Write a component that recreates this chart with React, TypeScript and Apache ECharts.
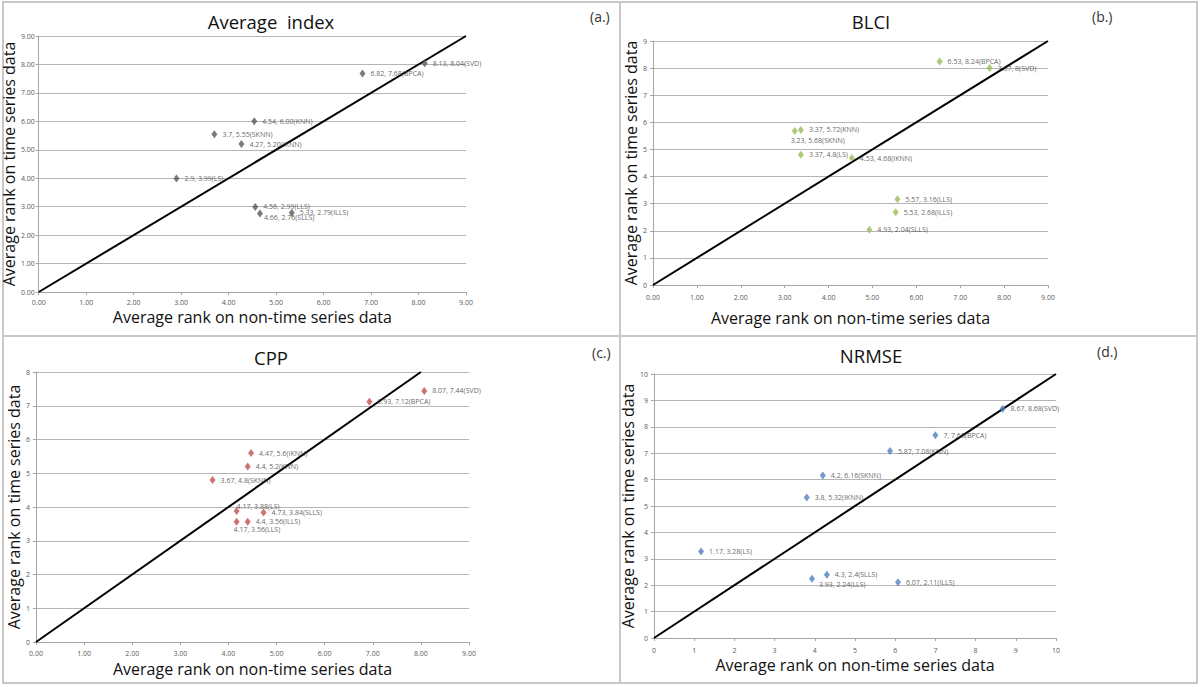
import React, { useEffect, useRef } from "react";
import * as echarts from "echarts";

// ---- Data ----
// (a) Average index
const methodsA = ["SVD", "BPCA", "KNN", "SKNN", "IKNN", "LS", "LLS", "ILLS", "SLLS"];
const xA = [8.13, 6.82, 4.54, 3.7, 4.27, 2.9, 4.56, 5.33, 4.66];
const yA = [8.04, 7.68, 6.0, 5.55, 5.2, 3.99, 2.99, 2.79, 2.76];
const labelsA = ["8.13, 8.04(SVD)", "6.82, 7.68(BPCA)", "4.54, 6.00(KNN)", "3.7, 5.55(SKNN)", "4.27, 5.20(IKNN)", "2.9, 3.99(LS)", "4.56, 2.99(LLS)", "5.33, 2.79(ILLS)", "4.66, 2.76(SLLS)"];
const diagA = [[0, 0], [9, 9]];

// (b) BLCI
const methodsB = ["BPCA", "SVD", "KNN", "SKNN", "LS", "IKNN", "LLS", "ILLS", "SLLS"];
const xB = [6.53, 7.67, 3.37, 3.23, 3.37, 4.53, 5.57, 5.53, 4.93];
const yB = [8.24, 8, 5.72, 5.68, 4.8, 4.68, 3.16, 2.68, 2.04];
const labelsB = ["6.53, 8.24(BPCA)", "7.67, 8(SVD)", "3.37, 5.72(KNN)", "3.23, 5.68(SKNN)", "3.37, 4.8(LS)", "4.53, 4.68(IKNN)", "5.57, 3.16(LLS)", "5.53, 2.68(ILLS)", "4.93, 2.04(SLLS)"];
const diagB = [[0, 0], [9, 9]];

// (c) CPP
const methodsC = ["SVD", "BPCA", "IKNN", "KNN", "SKNN", "LS", "SLLS", "ILLS", "LLS"];
const xC = [8.07, 6.93, 4.47, 4.4, 3.67, 4.17, 4.73, 4.4, 4.17];
const yC = [7.44, 7.12, 5.6, 5.2, 4.8, 3.88, 3.84, 3.56, 3.56];
const labelsC = ["8.07, 7.44(SVD)", "6.93, 7.12(BPCA)", "4.47, 5.6(IKNN)", "4.4, 5.2(KNN)", "3.67, 4.8(SKNN)", "4.17, 3.88(LS)", "4.73, 3.84(SLLS)", "4.4, 3.56(ILLS)", "4.17, 3.56(LLS)"];
const diagC = [[0, 0], [8, 8]];

// (d) NRMSE
const methodsD = ["SVD", "BPCA", "KNN", "SKNN", "IKNN", "LS", "SLLS", "LLS", "ILLS"];
const xD = [8.67, 7, 5.87, 4.2, 3.8, 1.17, 4.3, 3.93, 6.07];
const yD = [8.68, 7.68, 7.08, 6.16, 5.32, 3.28, 2.4, 2.24, 2.11];
const labelsD = ["8.67, 8.68(SVD)", "7, 7.68(BPCA)", "5.87, 7.08(KNN)", "4.2, 6.16(SKNN)", "3.8, 5.32(IKNN)", "1.17, 3.28(LS)", "4.3, 2.4(SLLS)", "3.93, 2.24(LLS)", "6.07, 2.11(ILLS)"];
const diagD = [[0, 0], [10, 10]];

const xAxisName = "Average rank on non-time series data";
const yAxisName = "Average rank on time series data";

const FONT = "'Open Sans', 'Noto Sans', sans-serif";

const panels = [
  {
    title: "Average  index", tag: "(a.)", color: "#5a5a5a",
    methods: methodsA, xs: xA, ys: yA, labels: labelsA, diag: diagA,
    xMax: 9, yMax: 9, xDec: 2, yDec: 2,
    grid: { left: 38, top: 36, width: 428, height: 256 },
    titleX: 266, titleY: 7, tagX: 590, tagY: 9,
    xNameGap: 17, yNameGap: 17, xLabelMargin: 7, yLabelMargin: 4,
    special: { SLLS: { position: "bottom", align: "left", distance: 0, offset: [4, -3] } } as any,
  },
  {
    title: "BLCI", tag: "(b.)", color: "#9bbb59",
    methods: methodsB, xs: xB, ys: yB, labels: labelsB, diag: diagB,
    xMax: 9, yMax: 9, xDec: 2, yDec: 0,
    grid: { left: 653, top: 41, width: 395, height: 244 },
    titleX: 866, titleY: 7, tagX: 1092, tagY: 9,
    xNameGap: 25, yNameGap: 10, xLabelMargin: 9, yLabelMargin: 6,
    special: { SKNN: { position: "bottom", align: "left", distance: 2, offset: [-4, 0] } } as any,
  },
  {
    title: "CPP", tag: "(c.)", color: "#c0504d",
    methods: methodsC, xs: xC, ys: yC, labels: labelsC, diag: diagC,
    xMax: 9, yMax: 8, xDec: 2, yDec: 0,
    grid: { left: 36, top: 372, width: 433, height: 270 },
    titleX: 266, titleY: 343, tagX: 592, tagY: 345,
    xNameGap: 19, yNameGap: 12, xLabelMargin: 8, yLabelMargin: 6,
    special: {
      LS: { position: "top", align: "left", distance: 0, offset: [0, 3] },
      LLS: { position: "bottom", align: "left", distance: 0, offset: [-3, 0] },
    } as any,
  },
  {
    title: "NRMSE", tag: "(d.)", color: "#4f81bd",
    methods: methodsD, xs: xD, ys: yD, labels: labelsD, diag: diagD,
    xMax: 10, yMax: 10, xDec: 0, yDec: 0,
    grid: { left: 654, top: 374, width: 402, height: 264 },
    titleX: 866, titleY: 341, tagX: 1097, tagY: 344,
    xNameGap: 19, yNameGap: 12, xLabelMargin: 9, yLabelMargin: 6,
    special: { LLS: { position: "bottom", align: "left", distance: 0, offset: [7, -2] } } as any,
  },
];

function buildOption() {
  const grid: any[] = [];
  const xAxis: any[] = [];
  const yAxis: any[] = [];
  const series: any[] = [];
  const title: any[] = [];
  const graphic: any[] = [];

  panels.forEach((p, i) => {
    grid.push({ ...p.grid, containLabel: false });
    title.push({
      text: p.title,
      left: p.titleX,
      top: p.titleY,
      textAlign: "center",
      textStyle: { fontFamily: FONT, fontSize: 18.5, fontWeight: "normal", color: "#111" },
    });
    graphic.push({
      type: "text",
      left: p.tagX,
      top: p.tagY,
      style: { text: p.tag, fontFamily: FONT, fontSize: 14, fill: "#333" },
    });
    xAxis.push({
      type: "value",
      gridIndex: i,
      min: 0,
      max: p.xMax,
      interval: 1,
      name: xAxisName,
      nameLocation: "middle",
      nameGap: p.xNameGap,
      nameTextStyle: { fontFamily: FONT, fontSize: 16, color: "#111" },
      axisLine: { show: true, lineStyle: { color: "#a6a6a6", width: 1 } },
      axisTick: { show: true, length: 3, lineStyle: { color: "#a6a6a6" } },
      axisLabel: {
        fontFamily: FONT, fontSize: 7, color: "#595959", margin: p.xLabelMargin,
        formatter: (v: number) => v.toFixed(p.xDec),
      },
      splitLine: { show: false },
    });
    yAxis.push({
      type: "value",
      gridIndex: i,
      min: 0,
      max: p.yMax,
      interval: 1,
      name: yAxisName,
      nameLocation: "middle",
      nameGap: p.yNameGap,
      nameTextStyle: { fontFamily: FONT, fontSize: 16, color: "#111" },
      axisLine: { show: true, lineStyle: { color: "#a6a6a6", width: 1 } },
      axisTick: { show: true, length: 3, lineStyle: { color: "#a6a6a6" } },
      axisLabel: {
        fontFamily: FONT, fontSize: 7, color: "#595959", margin: p.yLabelMargin,
        formatter: (v: number) => v.toFixed(p.yDec),
      },
      splitLine: { show: true, lineStyle: { color: "#b5b5b5", width: 1.2 } },
    });
    series.push({
      type: "line",
      xAxisIndex: i,
      yAxisIndex: i,
      data: p.diag,
      symbol: "none",
      lineStyle: { color: "#000", width: 2 },
      silent: true,
      z: 3,
    });
    series.push({
      type: "scatter",
      xAxisIndex: i,
      yAxisIndex: i,
      symbol: "diamond",
      symbolSize: [6, 8],
      itemStyle: { color: p.color },
      z: 4,
      label: {
        show: true,
        position: "right",
        distance: 5,
        fontFamily: FONT,
        fontSize: 7,
        color: "#3a3a3a",
        formatter: (d: any) => d.data.labelText,
      },
      data: p.methods.map((m, k) => {
        const item: any = { name: m, value: [p.xs[k], p.ys[k]], labelText: p.labels[k] };
        if (p.special[m]) item.label = { ...p.special[m] };
        return item;
      }),
    });
  });

  // panel borders
  const border = { stroke: "#c8c8c8", lineWidth: 2, fill: "none" };
  graphic.push({ type: "rect", shape: { x: 3, y: 2, width: 1194, height: 681 }, style: border, silent: true });
  graphic.push({ type: "line", shape: { x1: 620, y1: 2, x2: 620, y2: 683 }, style: { stroke: "#c8c8c8", lineWidth: 2 }, silent: true });
  graphic.push({ type: "line", shape: { x1: 3, y1: 336, x2: 1197, y2: 336 }, style: { stroke: "#c8c8c8", lineWidth: 2 }, silent: true });

  return {
    animation: false,
    backgroundColor: "#fff",
    title,
    grid,
    xAxis,
    yAxis,
    series,
    graphic,
  };
}

export default function App() {
  const ref = useRef<HTMLDivElement>(null);
  useEffect(() => {
    if (!ref.current) return;
    const chart = echarts.init(ref.current, undefined, { renderer: "svg" });
    chart.setOption(buildOption() as any);
    return () => chart.dispose();
  }, []);
  return (
    <div
      ref={ref}
      style={{ position: "absolute", left: 0, top: 0, width: 1200, height: 687, background: "#fff" }}
    />
  );
}
